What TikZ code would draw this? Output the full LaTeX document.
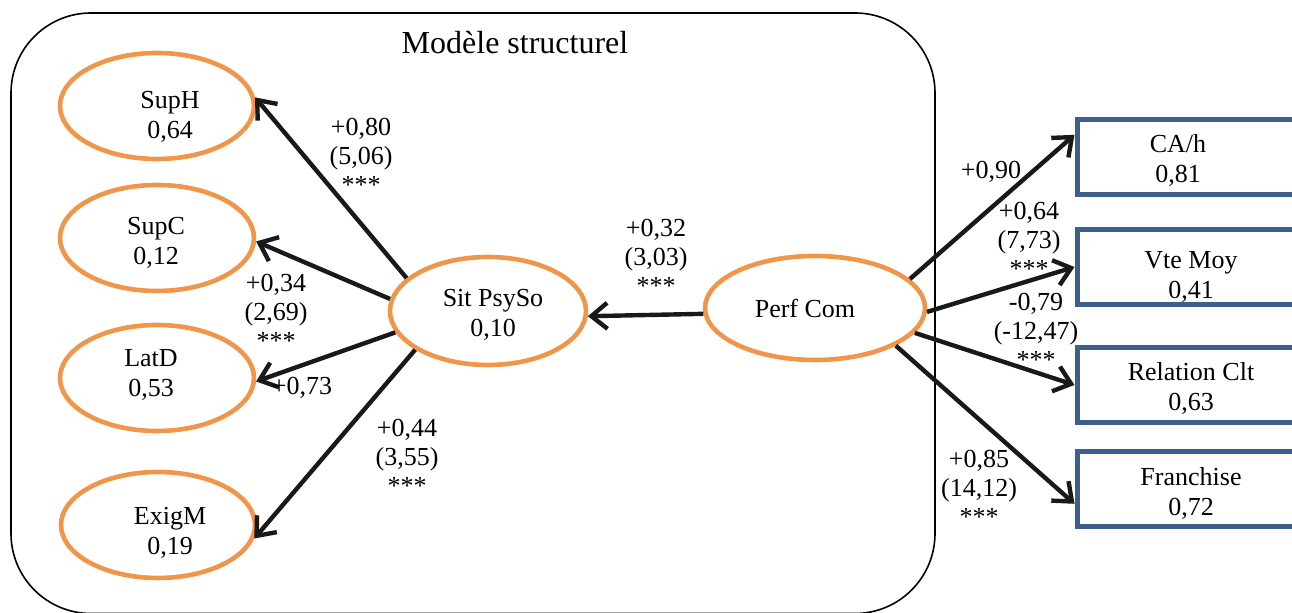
\documentclass[tikz,border=0pt]{standalone}
\usepackage{fontspec}
\setmainfont{Liberation Serif}
\usetikzlibrary{arrows.meta,shapes.geometric}
\definecolor{lorange}{RGB}{240,150,75}
\definecolor{lblue}{RGB}{60,95,140}
\begin{document}
\begin{tikzpicture}[x=0.5pt,y=-0.5pt,
  lat/.style={ellipse, draw=lorange, line width=2.3pt, inner sep=0pt},
  leftlat/.style={lat, minimum width=97pt, minimum height=53pt},
  obs/.style={rectangle, draw=lblue, line width=2.5pt, minimum width=114pt, minimum height=37.5pt, inner sep=0pt},
  txt/.style={font=\fontsize{13}{15}\selectfont, align=center, inner sep=0pt},
  lbl/.style={font=\fontsize{13}{14.5}\selectfont, align=center, inner sep=0pt},
  conn/.style={draw, black!90, line width=2.2pt, -{Straight Barb[length=8pt,width=13pt]}},
  frame/.style={draw, line width=0.8pt, rounded corners=40pt}
]
\clip (0,0) rectangle (1292,613);
% outer frame
\draw[frame] (11,13) rectangle (935,613.5);
\node[font=\fontsize{16}{18}\selectfont, inner sep=0pt] (title) at (515,43) {Modèle structurel};

% latent ellipses
\node[leftlat] (suph) at (157,106) {};
\node[leftlat] (supc) at (157,238) {};
\node[leftlat] (latd) at (157,378) {};
\node[leftlat] (exigm) at (158,525) {};
\node[lat, minimum width=98pt, minimum height=54pt] (sit) at (488,311) {};
\node[lat, minimum width=110pt, minimum height=52pt] (perf) at (815,308) {};

\node[txt] (suphT) at (170,117) {SupH\\0,64};
\node[txt] (supcT) at (156,243) {SupC\\0,12};
\node[txt] (latdT) at (151,375) {LatD\\0,53};
\node[txt] (exigmT) at (170,533) {ExigM\\0,19};
\node[txt] (sitT) at (493,315) {Sit PsySo\\0,10};
\node[txt] (perfT) at (805,308) {Perf Com};

% observed boxes
\node[obs] (cah) at (1191,157.5) {};
\node[obs] (vte) at (1191,267) {};
\node[obs] (rel) at (1191,385) {};
\node[obs] (fra) at (1191,489.5) {};

\node[txt] (cahT) at (1178,160) {CA/h\\0,81};
\node[txt] (vteT) at (1191,277) {Vte Moy\\0,41};
\node[txt] (relT) at (1191,388) {Relation Clt\\0,63};
\node[txt] (fraT) at (1191,493) {Franchise\\0,72};

% connectors
\draw[conn] (sit.158) -- (suph.5);
\draw[conn] (sit.173) -- (supc.358);
\draw[conn] (sit.193) -- (latd.358);
\draw[conn] (sit.208) -- (exigm.352);
\draw[conn] (perf.183) -- (sit.357);
\draw[conn] (perf.17) -- (cah.169);
\draw[conn] (perf.358) -- (vte.west);
\draw[conn] (perf.346) -- (rel.west);
\draw[conn] (perf.335) -- (fra.187);

% labels
\node[lbl] (l1) at (361,156) {+0,80\\(5,06)\\***};
\node[lbl] (l2) at (276,312) {+0,34\\(2,69)\\***};
\node[lbl] (l3) at (302,388) {+0,73};
\node[lbl] (l4) at (407,457) {+0,44\\(3,55)\\***};
\node[lbl] (l5) at (656,257) {+0,32\\(3,03)\\***};
\node[lbl] (l6) at (991,172) {+0,90};
\node[lbl] (l7) at (1029,240) {+0,64\\(7,73)\\***};
\node[lbl] (l8) at (1036,331) {-0,79\\(-12,47)\\***};
\node[lbl] (l9) at (979,488) {+0,85\\(14,12)\\***};
\end{tikzpicture}
\end{document}
